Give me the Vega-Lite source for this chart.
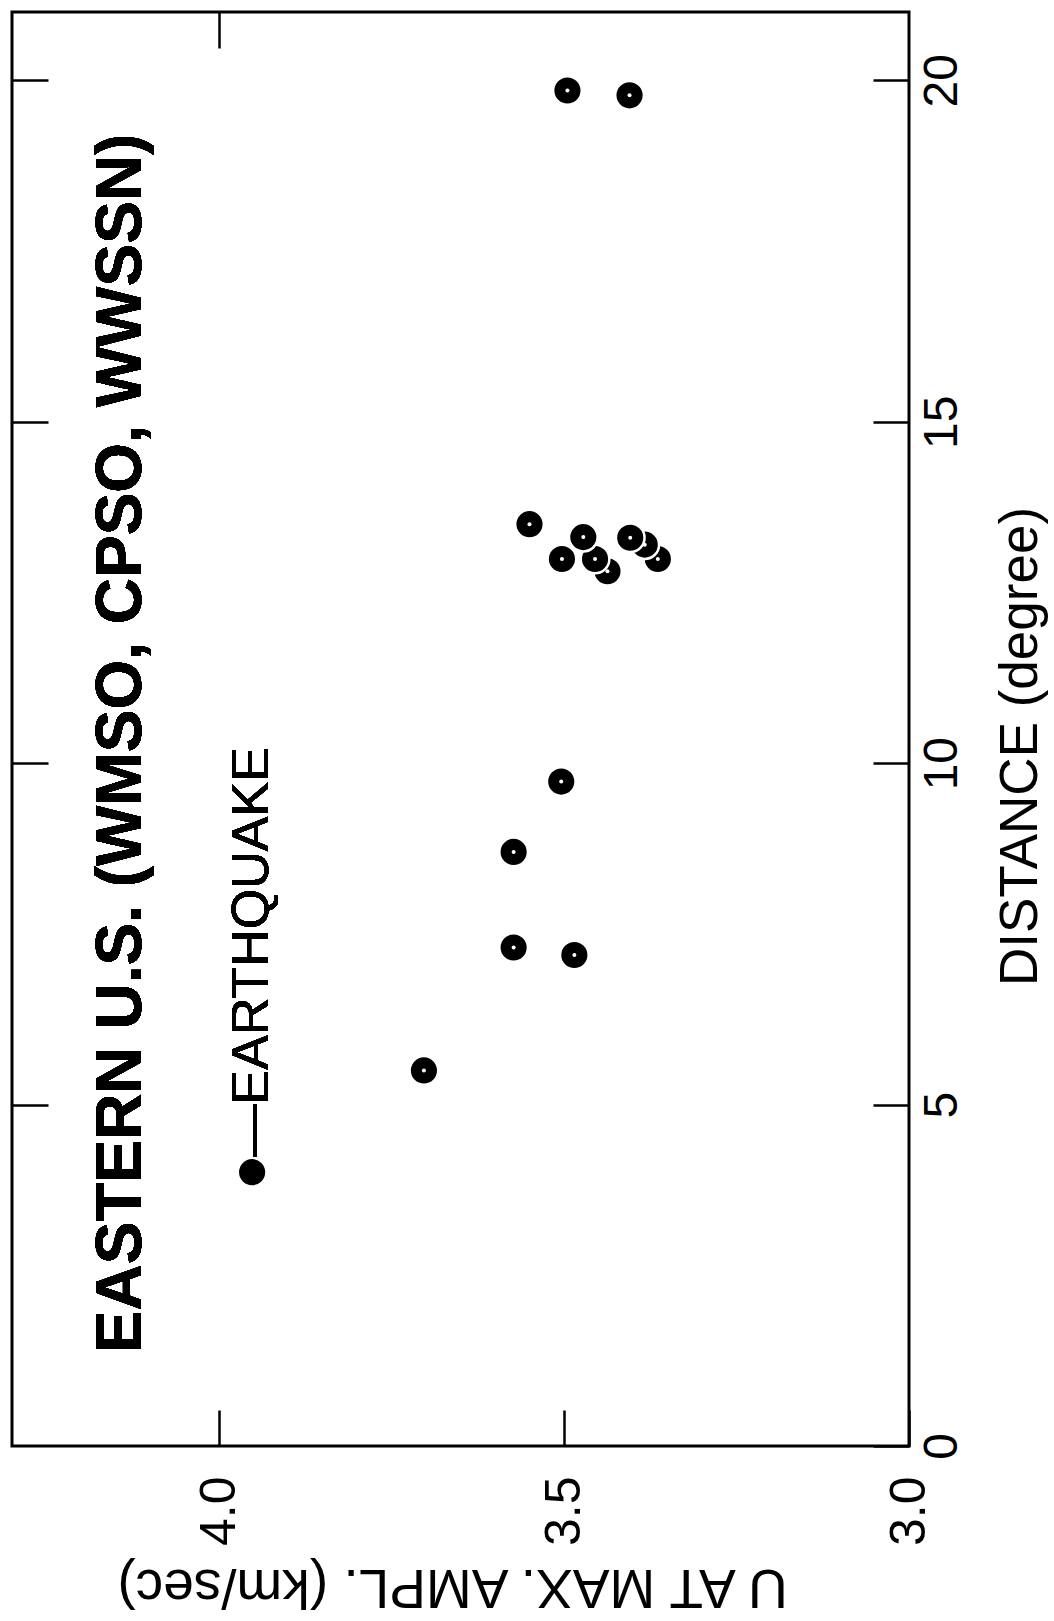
{
  "$schema": "https://vega.github.io/schema/vega-lite/v6.json",
  "width": 897,
  "height": 1434,
  "autosize": {"type": "none"},
  "padding": {"left": 12, "top": 12, "right": 145, "bottom": 175},
  "background": "white",
  "config": {
    "view": {"stroke": "black", "strokeWidth": 3},
    "axis": {
      "grid": false,
      "domain": false,
      "labelFont": "Liberation Sans",
      "titleFont": "Liberation Sans",
      "labelColor": "black",
      "titleColor": "black",
      "tickColor": "black",
      "tickWidth": 2.5,
      "tickSize": -36,
      "titleFontWeight": "normal"
    }
  },
  "data": {
    "values": [
      {"d": 19.85, "u": 3.495},
      {"d": 19.78, "u": 3.405},
      {"d": 13.50, "u": 3.550},
      {"d": 12.99, "u": 3.503},
      {"d": 12.99, "u": 3.364},
      {"d": 13.20, "u": 3.383},
      {"d": 13.30, "u": 3.404},
      {"d": 12.81, "u": 3.437},
      {"d": 12.99, "u": 3.455},
      {"d": 13.31, "u": 3.472},
      {"d": 9.73, "u": 3.504},
      {"d": 8.70, "u": 3.573},
      {"d": 7.30, "u": 3.573},
      {"d": 7.19, "u": 3.485},
      {"d": 5.50, "u": 3.703}
    ]
  },
  "layer": [
    {
      "mark": {"type": "point", "opacity": 0},
      "encoding": {
        "x": {"field": "u", "type": "quantitative",
              "scale": {"domain": [3.0, 4.3], "reverse": true, "nice": false, "zero": false},
              "axis": {"orient": "top", "labels": false, "title": null, "values": [4.0]}},
        "y": {"field": "d", "type": "quantitative",
              "scale": {"domain": [0, 21], "nice": false, "zero": false},
              "axis": {"orient": "left", "labels": false, "title": null, "values": [5, 10, 15, 20]}}
      }
    },
    {
      "mark": {"type": "point", "shape": "circle", "filled": true, "fill": "black", "stroke": "white", "strokeWidth": 2.5, "size": 820, "opacity": 1},
      "encoding": {
        "x": {"field": "u", "type": "quantitative",
              "axis": {"orient": "bottom", "values": [3.0, 3.5, 4.0], "format": ".1f",
                       "labelAngle": -90, "labelAlign": "right", "labelBaseline": "middle",
                       "labelFontSize": 50, "labelPadding": 66,
                       "title": "U AT MAX. AMPL. (km/sec)", "titleFontSize": 55, "titleAngle": 180,
                       "titleAlign": "center", "titleBaseline": "middle", "titleX": 440, "titleY": 140}},
        "y": {"field": "d", "type": "quantitative",
              "axis": {"orient": "right", "values": [0, 5, 10, 15, 20], "format": "d",
                       "labelAngle": -90, "labelAlign": "center", "labelBaseline": "middle",
                       "labelFontSize": 48, "labelPadding": 69,
                       "title": "DISTANCE (degree)", "titleFontSize": 53, "titleAngle": -90,
                       "titleAlign": "center", "titleBaseline": "middle", "titleX": 111, "titleY": 734}}
      }
    },
    {
      "mark": {"type": "point", "shape": "circle", "filled": true, "fill": "white", "size": 16, "opacity": 1},
      "encoding": {
        "x": {"field": "u", "type": "quantitative", "axis": null},
        "y": {"field": "d", "type": "quantitative", "axis": null}
      }
    },
    {
      "mark": {"type": "point", "shape": "circle", "filled": true, "fill": "black", "stroke": "white", "strokeWidth": 2.5, "size": 820, "opacity": 1},
      "encoding": {
        "x": {"datum": 3.952, "type": "quantitative", "axis": null},
        "y": {"datum": 4.01, "type": "quantitative", "axis": null}
      }
    },
    {
      "mark": {"type": "text", "text": "—EARTHQUAKE", "angle": -90, "align": "left", "baseline": "middle",
               "font": "Liberation Sans", "fontSize": 52, "color": "black"},
      "encoding": {
        "x": {"datum": 3.952, "type": "quantitative", "axis": null},
        "y": {"datum": 4.24, "type": "quantitative", "axis": null}
      }
    },
    {
      "mark": {"type": "text", "text": "EASTERN U.S. (WMSO, CPSO, WWSSN)", "angle": -90, "align": "left", "baseline": "middle",
               "font": "Liberation Sans", "fontSize": 64, "fontWeight": "bold", "color": "black"},
      "encoding": {
        "x": {"datum": 4.14, "type": "quantitative", "axis": null},
        "y": {"datum": 1.36, "type": "quantitative", "axis": null}
      }
    }
  ],
  "resolve": {"axis": {"x": "independent", "y": "independent"}}
}
